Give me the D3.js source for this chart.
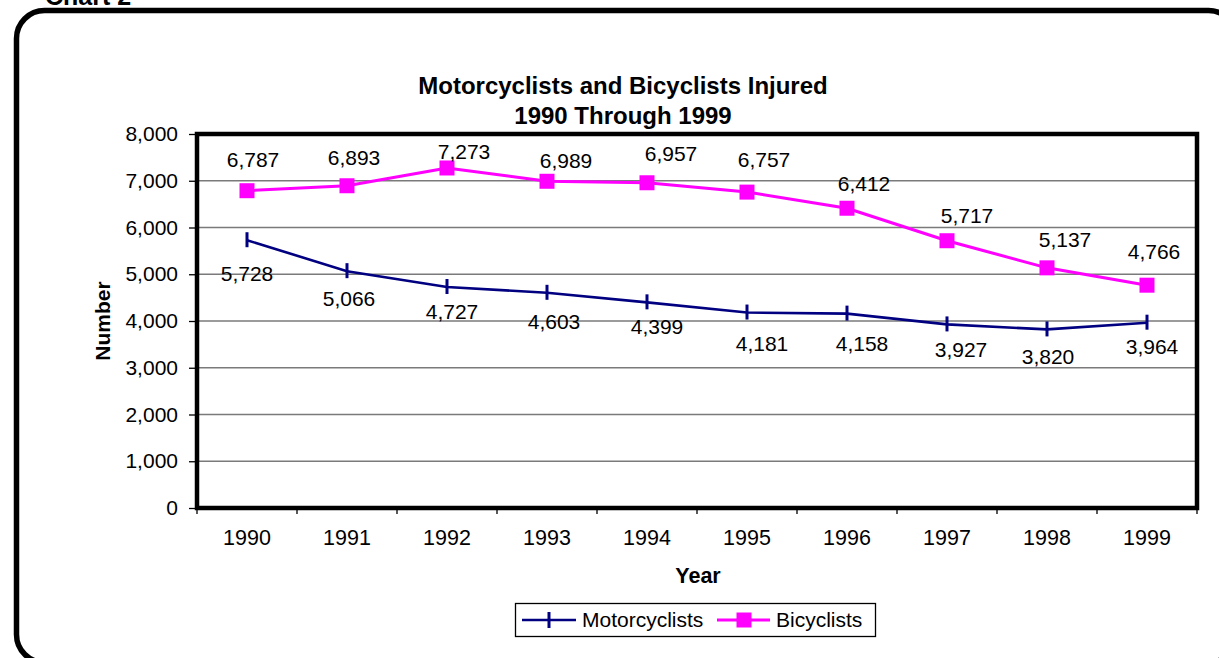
<!DOCTYPE html>
<html>
<head>
<meta charset="utf-8">
<script src="https://cdn.jsdelivr.net/npm/d3@7"></script>
<style>
  body { margin: 0; background: #fff; }
  svg { display: block; font-family: "Liberation Sans", Arial, sans-serif; }
</style>
</head>
<body>
<svg id="chart" width="1219" height="658"></svg>
<script>
// chart data
const years = ["1990", "1991", "1992", "1993", "1994", "1995", "1996", "1997", "1998", "1999"];
const motorcyclists = [5728, 5066, 4727, 4603, 4399, 4181, 4158, 3927, 3820, 3964];
const bicyclists = [6787, 6893, 7273, 6989, 6957, 6757, 6412, 5717, 5137, 4766];
const yTicks = [0, 1000, 2000, 3000, 4000, 5000, 6000, 7000, 8000];

// label nudges (px) to mimic the original placement
const motorLabelDx = [0, 2, 5, 7, 10, 15, 15, 14, 1, 5];
const motorLabelDy = [41, 35, 32, 36, 32, 38, 37, 33, 35, 31];
const bikeLabelDx = [6, 7, 17, 19, 24, 17, 17, 20, 18, 7];
const bikeLabelDy = [-24, -21, -9, -13, -22, -25, -17, -18, -21, -26];

const FONT = "Liberation Sans, Arial, sans-serif";
const svg = d3.select("#chart");
const fmt = d3.format(",");

// outer rounded frame (runs off the page on the right)
svg.append("rect")
  .attr("x", 16.5).attr("y", 10.5)
  .attr("width", 1220).attr("height", 652)
  .attr("rx", 28).attr("ry", 28)
  .attr("fill", "none").attr("stroke", "#000").attr("stroke-width", 5.5);

svg.append("text")
  .attr("x", 45).attr("y", 5)
  .attr("font-size", 25).attr("font-weight", "bold")
  .text("Chart 2");

const margin = { top: 134, left: 197, right: 1197, bottom: 508 };

const x = d3.scaleBand().domain(years).range([margin.left, margin.right]);
const y = d3.scaleLinear().domain([0, 8000]).range([margin.bottom, margin.top]);

// gridlines
svg.append("g")
  .selectAll("line")
  .data(yTicks.slice(1))
  .join("line")
  .attr("x1", margin.left).attr("x2", margin.right)
  .attr("y1", d => y(d)).attr("y2", d => y(d))
  .attr("stroke", "#7a7a7a").attr("stroke-width", 1.3);

// axes
const yAxis = svg.append("g")
  .attr("transform", `translate(${margin.left},0)`)
  .call(d3.axisLeft(y).tickValues(yTicks).tickSize(8).tickPadding(11).tickFormat(fmt));
yAxis.select(".domain").remove();
yAxis.selectAll("line").attr("stroke-width", 1.3);
yAxis.selectAll("text").attr("font-size", 21).attr("font-family", FONT).attr("fill", "#000");

const xAxis = svg.append("g")
  .attr("transform", `translate(0,${margin.bottom})`)
  .call(d3.axisBottom(x).tickSize(0).tickPadding(22));
xAxis.select(".domain").remove();
xAxis.selectAll("text").attr("font-size", 21.5).attr("font-family", FONT).attr("fill", "#000");

// category boundary ticks
svg.append("g")
  .selectAll("line")
  .data(d3.range(years.length + 1))
  .join("line")
  .attr("x1", i => margin.left + i * x.bandwidth())
  .attr("x2", i => margin.left + i * x.bandwidth())
  .attr("y1", margin.bottom).attr("y2", margin.bottom + 6)
  .attr("stroke", "#000").attr("stroke-width", 1.3);

// plot frame
svg.append("rect")
  .attr("x", margin.left).attr("y", margin.top)
  .attr("width", margin.right - margin.left).attr("height", margin.bottom - margin.top)
  .attr("fill", "none").attr("stroke", "#000").attr("stroke-width", 4.5);

const cx = d => x(d) + x.bandwidth() / 2;
const line = d3.line().x((d, i) => cx(years[i])).y(d => y(d));

// motorcyclists
svg.append("path").datum(motorcyclists)
  .attr("d", line).attr("fill", "none")
  .attr("stroke", "#000080").attr("stroke-width", 2.6);
svg.append("g").selectAll("line")
  .data(motorcyclists).join("line")
  .attr("x1", (d, i) => cx(years[i])).attr("x2", (d, i) => cx(years[i]))
  .attr("y1", d => y(d) - 8).attr("y2", d => y(d) + 7)
  .attr("stroke", "#000080").attr("stroke-width", 3);
svg.append("g").selectAll("text")
  .data(motorcyclists).join("text")
  .attr("x", (d, i) => cx(years[i]) + motorLabelDx[i])
  .attr("y", (d, i) => y(d) + motorLabelDy[i])
  .attr("text-anchor", "middle").attr("font-size", 21)
  .text(d => fmt(d));

// bicyclists
svg.append("path").datum(bicyclists)
  .attr("d", line).attr("fill", "none")
  .attr("stroke", "#FF00FF").attr("stroke-width", 3);
svg.append("g").selectAll("rect")
  .data(bicyclists).join("rect")
  .attr("x", (d, i) => cx(years[i]) - 7.5).attr("y", d => y(d) - 7.5)
  .attr("width", 15).attr("height", 15)
  .attr("fill", "#FF00FF");
svg.append("g").selectAll("text")
  .data(bicyclists).join("text")
  .attr("x", (d, i) => cx(years[i]) + bikeLabelDx[i])
  .attr("y", (d, i) => y(d) + bikeLabelDy[i])
  .attr("text-anchor", "middle").attr("font-size", 21)
  .text(d => fmt(d));

// titles
svg.append("text").attr("x", 623).attr("y", 94)
  .attr("text-anchor", "middle").attr("font-size", 24).attr("font-weight", "bold")
  .text("Motorcyclists and Bicyclists Injured");
svg.append("text").attr("x", 623).attr("y", 124)
  .attr("text-anchor", "middle").attr("font-size", 24).attr("font-weight", "bold")
  .text("1990 Through 1999");

svg.append("text").attr("x", 698).attr("y", 583)
  .attr("text-anchor", "middle").attr("font-size", 21.5).attr("font-weight", "bold")
  .text("Year");
svg.append("text")
  .attr("transform", "translate(110,321) rotate(-90)")
  .attr("text-anchor", "middle").attr("font-size", 21).attr("font-weight", "bold")
  .text("Number");

// legend
const lg = svg.append("g");
lg.append("rect").attr("x", 515.5).attr("y", 603.5).attr("width", 360).attr("height", 33)
  .attr("fill", "#fff").attr("stroke", "#000").attr("stroke-width", 1.3);
lg.append("line").attr("x1", 522).attr("x2", 576).attr("y1", 620).attr("y2", 620)
  .attr("stroke", "#000080").attr("stroke-width", 2.6);
lg.append("line").attr("x1", 549).attr("x2", 549).attr("y1", 612).attr("y2", 628)
  .attr("stroke", "#000080").attr("stroke-width", 3);
lg.append("text").attr("x", 582).attr("y", 627).attr("font-size", 21).text("Motorcyclists");
lg.append("line").attr("x1", 717).attr("x2", 770).attr("y1", 620).attr("y2", 620)
  .attr("stroke", "#FF00FF").attr("stroke-width", 3);
lg.append("rect").attr("x", 736.5).attr("y", 612.5).attr("width", 15).attr("height", 15)
  .attr("fill", "#FF00FF");
lg.append("text").attr("x", 776).attr("y", 627).attr("font-size", 21).text("Bicyclists");
</script>
</body>
</html>
